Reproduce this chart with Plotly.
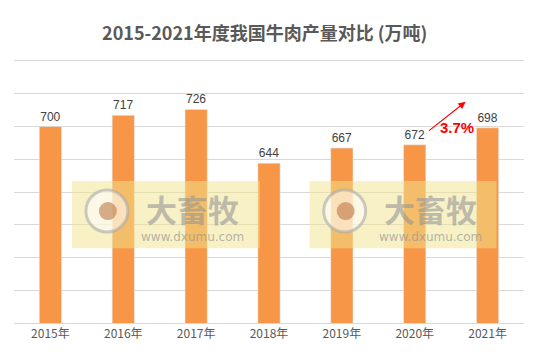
import plotly.graph_objects as go

years = ["2015年", "2016年", "2017年", "2018年", "2019年", "2020年", "2021年"]
production = [700, 717, 726, 644, 667, 672, 698]
growth_label = "3.7%"
title_text = "2015-2021年度我国牛肉产量对比 (万吨)"

W, H = 537, 352
L, R, T, B = 14, 524.5, 61.3, 322.7

def px(x):
    return (x - L) / (R - L)

def py(y):
    return (B - y) / (B - T)

fig = go.Figure()
fig.add_trace(go.Bar(
    x=years, y=production, marker_color="#f79646", width=0.305,
    text=[str(v) for v in production], textposition="outside",
    textfont=dict(size=12, color="#404040", family="Liberation Sans, Arial"),
    cliponaxis=False,
))

shapes = []
annotations = []
for (x0, x1, cx, tx) in [(72, 260, 107, 193), (310, 497, 345, 431)]:
    shapes.append(dict(type="rect", xref="paper", yref="paper",
                       x0=px(x0), x1=px(x1), y0=py(248), y1=py(181),
                       fillcolor="rgba(240,228,140,0.5)", line_width=0, layer="above"))
    shapes.append(dict(type="circle", xref="paper", yref="paper",
                       x0=px(cx - 21), x1=px(cx + 21), y0=py(232), y1=py(190),
                       fillcolor="rgba(255,255,255,0.55)",
                       line=dict(color="rgba(170,170,170,0.6)", width=3), layer="above"))
    shapes.append(dict(type="circle", xref="paper", yref="paper",
                       x0=px(cx - 8), x1=px(cx + 10), y0=py(220), y1=py(202),
                       fillcolor="rgba(190,120,70,0.6)", line_width=0, layer="above"))
    annotations.append(dict(text="<b>大畜牧</b>", xref="paper", yref="paper",
                            x=px(tx), y=py(208), xanchor="center", yanchor="middle",
                            showarrow=False,
                            font=dict(size=31, color="rgba(150,150,150,0.6)",
                                      family="Noto Sans CJK SC")))
    annotations.append(dict(text="www.dxumu.com", xref="paper", yref="paper",
                            x=px(tx), y=py(236.5), xanchor="center", yanchor="middle",
                            showarrow=False,
                            font=dict(size=12, color="rgba(150,150,150,0.7)",
                                      family="DejaVu Sans, Arial")))

annotations.append(dict(xref="paper", yref="paper", axref="pixel", ayref="pixel",
                        x=px(466), y=py(102), ax=-38, ay=30,
                        text="", showarrow=True, arrowhead=2, arrowsize=1.2,
                        arrowwidth=1.2, arrowcolor="#ff0000"))
annotations.append(dict(xref="paper", yref="paper", x=px(457), y=py(128),
                        xanchor="center", yanchor="middle",
                        text="<b>" + growth_label + "</b>", showarrow=False,
                        font=dict(size=15, color="#ff0000", family="Liberation Sans, Arial")))

fig.update_layout(
    width=W, height=H,
    margin=dict(l=L, r=W - R, t=T, b=H - B),
    paper_bgcolor="white", plot_bgcolor="white",
    title=dict(text="<b>" + title_text + "</b>", xref="paper", x=px(265),
               xanchor="center", y=1 - 34 / H, yanchor="middle",
               font=dict(size=18, color="#595959", family="Noto Sans CJK SC")),
    xaxis=dict(showgrid=False, showline=True, mirror=True, linecolor="#d9d9d9",
               linewidth=1, ticks="",
               tickfont=dict(size=12, color="#595959", family="Noto Sans CJK SC")),
    yaxis=dict(range=[400, 800], dtick=50, tick0=400, showticklabels=False,
               showgrid=True, gridcolor="#d9d9d9", gridwidth=1, zeroline=False),
    shapes=shapes, annotations=annotations, showlegend=False,
)

fig.write_html("out.html")
